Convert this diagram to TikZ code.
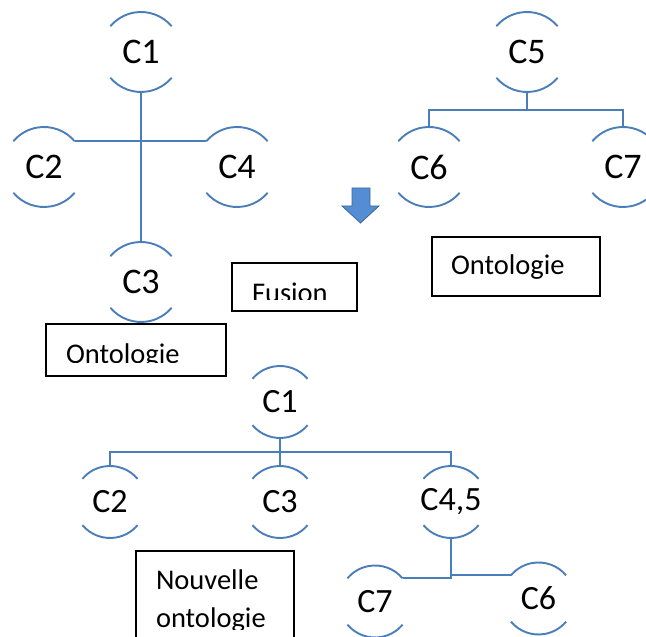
\documentclass[tikz,border=0pt]{standalone}
\usepackage{fontspec}
\setmainfont{Carlito}
\definecolor{linkblue}{RGB}{74,126,187}
\definecolor{arrowfill}{RGB}{84,141,212}
\definecolor{arrowedge}{RGB}{60,104,152}
\begin{document}
\begin{tikzpicture}[x=1pt,y=1pt,
  link/.style={draw=linkblue, line width=2pt},
  arcline/.style={draw=linkblue, line width=1.9pt},
  concept/.style={circle, inner sep=0pt, outer sep=0pt, minimum size=2*#1,
    append after command={\pgfextra{%
      \draw[arcline] (\tikzlastnode.40) arc[start angle=40,end angle=140,radius=#1];
      \draw[arcline] (\tikzlastnode.220) arc[start angle=220,end angle=320,radius=#1];}}},
  big/.style={concept=40pt, font=\fontsize{36}{40}\selectfont},
  small/.style={concept=36pt, font=\fontsize{34}{38}\selectfont},
  frame/.style={draw=black, line width=1.4pt, inner sep=0pt, outer sep=0pt, anchor=south west},
  caption/.style={font=\fontsize{28.5}{34}\selectfont, inner sep=0pt, outer sep=0pt, anchor=base west}
]
\useasboundingbox (0,0) rectangle (646,637);
\clip (0,0) rectangle (646,637);

% first ontology
\node[big] (a1) at (141,585) {C1};
\node[big] (a2) at (44,470) {C2};
\node[big] (a4) at (237,470) {C4};
\node[big] (a3) at (141,355) {C3};
\draw[link, line width=2.6pt] (a1.south) -- (a3.north);
\draw[link, line width=1.8pt] (a2.40) -- (a4.140);

% second ontology
\node[big] (b5) at (527,585) {C5};
\node[big] (b6) at (429,470) {C6};
\node[big] (b7) at (623,470) {C7};
\coordinate (bbar) at (527,527);
\draw[link] (b5.south) -- (bbar);
\draw[link] (b6.north) |- (bbar) -| (b7.north);

% merge arrow
\draw[fill=arrowfill, draw=arrowedge, line width=0.8pt, line join=miter]
  (352,449) -- (370,449) -- (370,431) -- (379,431) -- (360.5,414)
  -- (342,431) -- (352,431) -- cycle;

% captions
\node[frame, minimum width=125pt, minimum height=48pt] (fusionbox) at (232,326) {};
\begin{scope}
  \clip (232,337) rectangle (357,374);
  \node[caption] (fusiontext) at (252,334) {Fusion};
\end{scope}

\node[frame, minimum width=180pt, minimum height=52pt] (leftbox) at (46,261) {};
\begin{scope}
  \clip (46,274) rectangle (226,313);
  \node[caption] (lefttext) at (66,273) {Ontologie};
\end{scope}

\node[frame, minimum width=168pt, minimum height=59pt] (rightbox) at (432,341) {};
\node[caption] (righttext) at (451,362) {Ontologie};

% merged ontology
\node[small] (m1) at (280,235) {C1};
\node[small] (m2) at (110,135) {C2};
\node[small] (m3) at (280,135) {C3};
\node[small] (m45) at (451,135) {C4,5};
\node[small] (m7) at (375,35.5) {C7};
\node[small] (m6) at (538.5,38.5) {C6};
\coordinate (mbar) at (280,185);
\draw[link] (m1.south) -- (mbar);
\draw[link] (m2.north) |- (mbar) -| (m45.north);
\draw[link] (mbar) -- (m3.north);
\draw[link] (m45.south) -- (m45.south |- m7.40) -- (m7.40);
\draw[link] (m45.south |- m6.140) -- (m6.140);

\node[frame, minimum width=158pt, minimum height=96pt] (newbox) at (136,-10) {};
\begin{scope}
  \clip (136,7) rectangle (294,86);
  \node[caption] (newtext1) at (156,47) {Nouvelle};
  \node[caption] (newtext2) at (156,9) {ontologie};
\end{scope}
\end{tikzpicture}
\end{document}
